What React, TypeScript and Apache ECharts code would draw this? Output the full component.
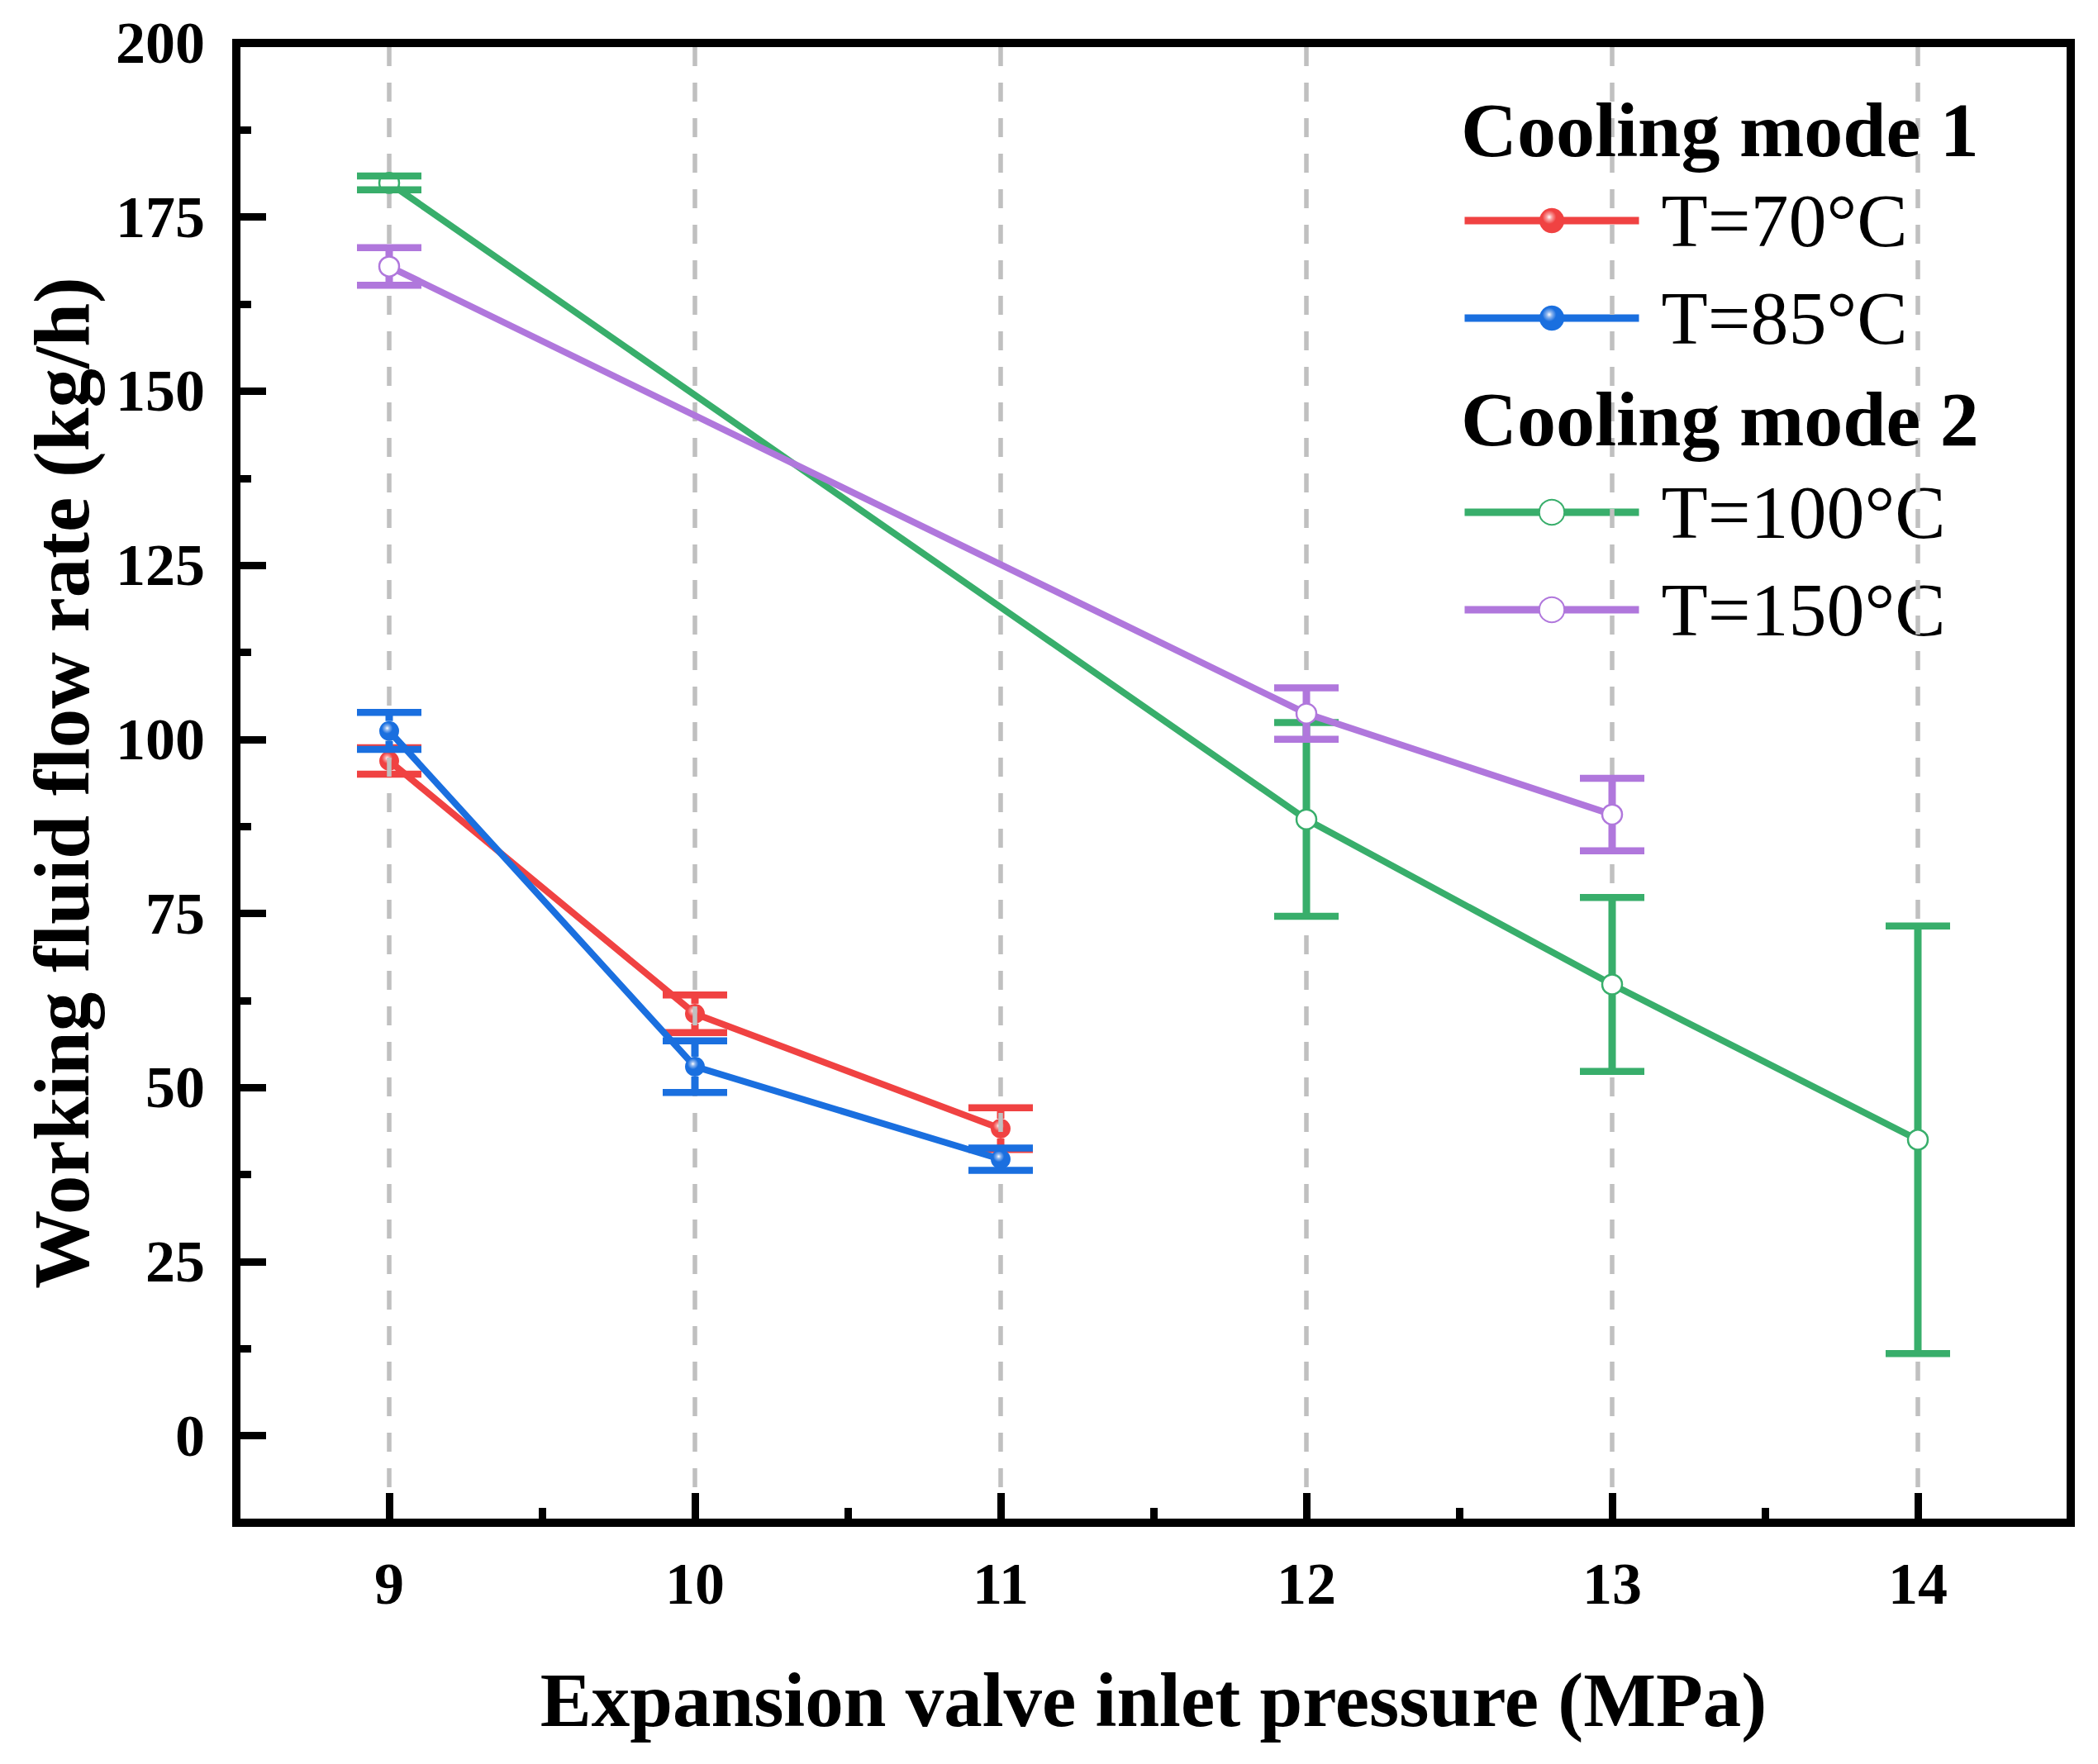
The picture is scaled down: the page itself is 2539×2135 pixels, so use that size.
import React, { useEffect, useRef } from 'react';
import * as echarts from 'echarts';

const FONT = '"Times New Roman", "Liberation Serif", serif';

const xMajorTicks = [9, 10, 11, 12, 13, 14];
const xMinorTicks = [9.5, 10.5, 11.5, 12.5, 13.5];
const yMajorTicks = [0, 25, 50, 75, 100, 125, 150, 175, 200];
const yMinorTicks = [12.5, 37.5, 62.5, 87.5, 112.5, 137.5, 162.5, 187.5];
const gridLinesX = [9, 10, 11, 12, 13, 14];

const x70 = [9, 10, 11];
const y70 = [96.9, 60.6, 44.1];
const e70 = [1.9, 2.7, 3.0];

const x85 = [9, 10, 11];
const y85 = [101.2, 53.0, 39.7];
const e85 = [2.65, 3.7, 1.6];

const x100 = [9, 12, 13, 14];
const y100 = [179.9, 88.5, 64.8, 42.5];
const e100 = [1.0, 13.9, 12.5, 30.7];

const x150 = [9, 12, 13];
const y150 = [167.9, 103.7, 89.2];
const e150 = [2.7, 3.7, 5.2];

const RED = '#F04242';
const BLUE = '#1A6FDF';
const GREEN = '#38AE6B';
const PURPLE = '#B077DC';

const MARKER = 24;

function sphere(c: string, light: string) {
  return new echarts.graphic.RadialGradient(0.4, 0.36, 0.55, [
    { offset: 0, color: '#ffffff' },
    { offset: 0.2, color: light },
    { offset: 0.5, color: c },
    { offset: 1, color: c },
  ]);
}

function errSeries(name: string, xs: number[], ys: number[], es: number[], color: string, z: number) {
  return {
    type: 'custom',
    name,
    z,
    silent: true,
    data: xs.map((x, i) => [x, ys[i], ys[i] - es[i], ys[i] + es[i]]),
    encode: { x: 0, y: [1, 2, 3] },
    renderItem: (params: any, api: any) => {
      const x = api.value(0);
      const p = api.coord([x, api.value(1)]);
      const lo = api.coord([x, api.value(2)]);
      const hi = api.coord([x, api.value(3)]);
      const hw = 39;
      const r = MARKER / 2;
      const children: any[] = [];
      if (hi[1] < p[1] - r) {
        children.push({ type: 'line', shape: { x1: p[0], y1: p[1] - r, x2: hi[0], y2: hi[1] }, style: { stroke: color, lineWidth: 9 } });
      }
      if (lo[1] > p[1] + r) {
        children.push({ type: 'line', shape: { x1: p[0], y1: p[1] + r, x2: lo[0], y2: lo[1] }, style: { stroke: color, lineWidth: 9 } });
      }
      children.push({ type: 'line', shape: { x1: lo[0] - hw, y1: lo[1], x2: lo[0] + hw, y2: lo[1] }, style: { stroke: color, lineWidth: 8.5 } });
      children.push({ type: 'line', shape: { x1: hi[0] - hw, y1: hi[1], x2: hi[0] + hw, y2: hi[1] }, style: { stroke: color, lineWidth: 8.5 } });
      return { type: 'group', children };
    },
  };
}

function lineSeries(name: string, xs: number[], ys: number[], color: string, itemStyle: any, z: number) {
  return {
    type: 'line',
    name,
    z,
    data: xs.map((x, i) => [x, ys[i]]),
    symbol: 'circle',
    symbolSize: MARKER,
    showSymbol: true,
    lineStyle: { color, width: 8 },
    itemStyle,
    emphasis: { disabled: true },
  };
}

export default function App() {
  const ref = useRef<HTMLDivElement>(null);
  useEffect(() => {
    if (!ref.current) return;
    const chart = echarts.init(ref.current, undefined, { renderer: 'svg' });
    const tickLabelStyle = { fontFamily: FONT, fontSize: 72, fontWeight: 'bold', color: '#000' };
    const legendText = { fontFamily: FONT, fontSize: 92, color: '#000' };
    const option: any = {
      animation: false,
      backgroundColor: '#fff',
      grid: {
        left: 286,
        right: 33,
        top: 52,
        bottom: 292,
        show: true,
        borderColor: '#000',
        borderWidth: 10,
        backgroundColor: 'transparent',
        containLabel: false,
      },
      title: [
        { text: 'Cooling mode 1', left: 1768, top: 110, padding: 0, textStyle: { fontFamily: FONT, fontSize: 94, fontWeight: 'bold', color: '#000' } },
        { text: 'Cooling mode 2', left: 1768, top: 460, padding: 0, textStyle: { fontFamily: FONT, fontSize: 94, fontWeight: 'bold', color: '#000' } },
      ],
      legend: [
        {
          orient: 'vertical', left: 1768, top: 221, padding: 0, itemGap: 26,
          itemWidth: 211, itemHeight: 38, textStyle: { ...legendText, padding: [0, 0, 0, 22] },
          lineStyle: { width: 9 },
          data: ['T=70°C', 'T=85°C'], selectedMode: false,
        },
        {
          orient: 'vertical', left: 1768, top: 574, padding: 0, itemGap: 26,
          itemWidth: 211, itemHeight: 38, textStyle: { ...legendText, padding: [0, 0, 0, 22] },
          lineStyle: { width: 9 },
          data: ['T=100°C', 'T=150°C'], selectedMode: false,
        },
      ],
      xAxis: [
        {
          type: 'value', min: 8.5, max: 14.5, position: 'bottom', z: 12,
          name: 'Expansion valve inlet pressure (MPa)', nameLocation: 'middle', nameGap: 168,
          nameTextStyle: { fontFamily: FONT, fontSize: 93, fontWeight: 'bold', color: '#000' },
          axisLine: { show: true, onZero: false, lineStyle: { color: '#000', width: 10 } },
          axisTick: { show: true, inside: true, length: 36, lineStyle: { color: '#000', width: 9 }, customValues: xMajorTicks },
          axisLabel: { ...tickLabelStyle, margin: 38, customValues: xMajorTicks },
          splitLine: { show: false },
        },
        {
          type: 'value', min: 8.5, max: 14.5, position: 'bottom', z: 12,
          axisLine: { show: false, onZero: false },
          axisTick: { show: true, inside: true, length: 18, lineStyle: { color: '#000', width: 9 }, customValues: xMinorTicks },
          axisLabel: { show: false },
          splitLine: { show: false },
        },
      ],
      yAxis: [
        {
          type: 'value', min: -12.5, max: 200, position: 'left', z: 12,
          name: 'Working fluid flow rate (kg/h)', nameLocation: 'middle', nameGap: 164,
          nameTextStyle: { fontFamily: FONT, fontSize: 95, fontWeight: 'bold', color: '#000' },
          axisLine: { show: true, onZero: false, lineStyle: { color: '#000', width: 10 } },
          axisTick: { show: true, inside: true, length: 36, lineStyle: { color: '#000', width: 9 }, customValues: yMajorTicks },
          axisLabel: { ...tickLabelStyle, margin: 38, customValues: yMajorTicks },
          splitLine: { show: false },
        },
        {
          type: 'value', min: -12.5, max: 200, position: 'left', z: 12,
          axisLine: { show: false, onZero: false },
          axisTick: { show: true, inside: true, length: 18, lineStyle: { color: '#000', width: 9 }, customValues: yMinorTicks },
          axisLabel: { show: false },
          splitLine: { show: false },
        },
      ],
      series: [
        {
          type: 'line', name: 'gridlines', data: [], silent: true, z: 1,
          markLine: {
            silent: true, symbol: ['none', 'none'], label: { show: false },
            lineStyle: { color: '#C0C0C0', width: 5.5, type: [23, 20] },
            emphasis: { disabled: true },
            data: gridLinesX.map((v) => ({ xAxis: v })),
          },
        },
        lineSeries('T=70°C', x70, y70, RED, { color: sphere(RED, '#F8A0A0') }, 3),
        errSeries('err70', x70, y70, e70, RED, 4),
        lineSeries('T=85°C', x85, y85, BLUE, { color: sphere(BLUE, '#8DB5EE') }, 5),
        errSeries('err85', x85, y85, e85, BLUE, 6),
        lineSeries('T=100°C', x100, y100, GREEN, { color: '#fff', borderColor: GREEN, borderWidth: 2.5 }, 7),
        errSeries('err100', x100, y100, e100, GREEN, 8),
        lineSeries('T=150°C', x150, y150, PURPLE, { color: '#fff', borderColor: PURPLE, borderWidth: 2.5 }, 9),
        errSeries('err150', x150, y150, e150, PURPLE, 10),
      ],
    };
    chart.setOption(option);
    return () => chart.dispose();
  }, []);
  return <div ref={ref} style={{ position: 'fixed', left: 0, top: 0, width: 2539, height: 2135, background: '#fff' }} />;
}
